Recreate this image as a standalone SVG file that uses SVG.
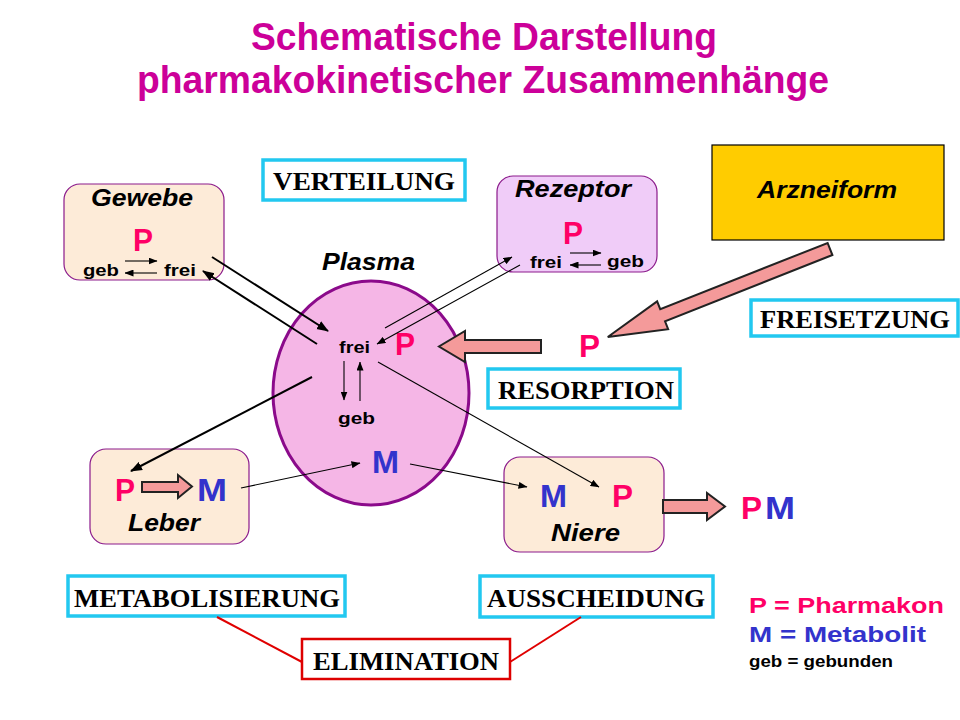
<svg xmlns="http://www.w3.org/2000/svg" width="960" height="720" viewBox="0 0 960 720">
<defs>
<marker id="ah" markerUnits="userSpaceOnUse" markerWidth="12" markerHeight="10" viewBox="0 0 12 10" refX="11" refY="5" orient="auto">
<path d="M0,0.5 L12,5 L0,9.5 Z" fill="#000"/>
</marker>
<marker id="ahs" markerUnits="userSpaceOnUse" markerWidth="9" markerHeight="7" viewBox="0 0 9 7" refX="8.5" refY="3.5" orient="auto">
<path d="M0,0 L9,3.5 L0,7 Z" fill="#000"/>
</marker>
</defs>
<style>
.title{font-family:"Liberation Sans",Arial,sans-serif;font-weight:bold;font-size:39px;fill:#cc0099;text-anchor:middle}
.lbl{font-family:"Liberation Sans",Arial,sans-serif;font-weight:bold;font-style:italic;font-size:24px;fill:#000}
.sm{font-family:"Liberation Sans",Arial,sans-serif;font-weight:bold;font-size:17px;fill:#000}
.P{font-family:"Liberation Sans",Arial,sans-serif;font-weight:bold;font-size:32px;fill:#ff0066}
.M{font-family:"Liberation Sans",Arial,sans-serif;font-weight:bold;font-size:32px;fill:#3333cc}
.proc{font-family:"Liberation Serif","Times New Roman",serif;font-weight:bold;font-size:26px;fill:#000}
.pbox{fill:#fff;stroke:#22c8f0;stroke-width:3.5}
.peach{fill:#fdebd8;stroke:#8b1a8b;stroke-width:1.2}
.lav{fill:#f0ccf8;stroke:#8b1a8b;stroke-width:1.2}
.bigarrow{fill:#f49a9a;stroke:#222;stroke-width:2;stroke-linejoin:miter}
.c2{stroke:#000;stroke-width:2;fill:none}
.c1{stroke:#000;stroke-width:1.1;fill:none}
.red{stroke:#e00000;stroke-width:2;fill:none}
.leg{font-family:"Liberation Sans",Arial,sans-serif;font-weight:bold;font-size:22px}
</style>
<rect width="960" height="720" fill="#fff"/>

<g id="title">
<text class="title" x="484" y="50" textLength="466" lengthAdjust="spacingAndGlyphs">Schematische Darstellung</text>
<text class="title" x="483" y="93" textLength="692" lengthAdjust="spacingAndGlyphs">pharmakokinetischer Zusammenhänge</text>
</g>

<g id="plasma">
<ellipse cx="371" cy="393" rx="98" ry="112" fill="#f5b6e6" stroke="#8b0a8b" stroke-width="3"/>
<text class="lbl" x="322" y="270" textLength="93" lengthAdjust="spacingAndGlyphs">Plasma</text>
<text class="sm" x="339" y="353" textLength="31" lengthAdjust="spacingAndGlyphs">frei</text>
<text class="P" x="395" y="355" font-size="30" textLength="20" lengthAdjust="spacingAndGlyphs">P</text>
<text class="sm" x="338" y="424" textLength="37" lengthAdjust="spacingAndGlyphs">geb</text>
<text class="M" x="372" y="473" font-size="31" textLength="27" lengthAdjust="spacingAndGlyphs">M</text>
<line class="c1" x1="344" y1="361" x2="344" y2="400" marker-end="url(#ahs)"/>
<line class="c1" x1="360" y1="401" x2="360" y2="362" marker-end="url(#ahs)"/>
</g>

<g id="gewebe">
<rect class="peach" x="64" y="184" width="160" height="96" rx="16"/>
<text class="lbl" x="91" y="206" textLength="102" lengthAdjust="spacingAndGlyphs">Gewebe</text>
<text class="P" x="133" y="251" textLength="20" lengthAdjust="spacingAndGlyphs">P</text>
<text class="sm" x="83" y="276" textLength="36" lengthAdjust="spacingAndGlyphs">geb</text>
<text class="sm" x="164" y="276" textLength="32" lengthAdjust="spacingAndGlyphs">frei</text>
<line class="c1" x1="125" y1="261" x2="157" y2="261" stroke-width="1.6" marker-end="url(#ahs)"/>
<line class="c1" x1="157" y1="273" x2="125" y2="273" stroke-width="1.6" marker-end="url(#ahs)"/>
</g>

<g id="verteilung">
<rect class="pbox" x="263" y="160" width="202" height="40"/>
<text class="proc" x="364" y="190" text-anchor="middle" textLength="182" lengthAdjust="spacingAndGlyphs">VERTEILUNG</text>
</g>

<g id="rezeptor">
<rect class="lav" x="497" y="176" width="160" height="96" rx="16"/>
<text class="lbl" x="515" y="197" textLength="116" lengthAdjust="spacingAndGlyphs">Rezeptor</text>
<text class="P" x="563" y="244" textLength="20" lengthAdjust="spacingAndGlyphs">P</text>
<text class="sm" x="530" y="268" textLength="32" lengthAdjust="spacingAndGlyphs">frei</text>
<text class="sm" x="607" y="267" textLength="37" lengthAdjust="spacingAndGlyphs">geb</text>
<line class="c1" x1="570" y1="253" x2="601" y2="253" stroke-width="1.6" marker-end="url(#ahs)"/>
<line class="c1" x1="601" y1="265" x2="570" y2="265" stroke-width="1.6" marker-end="url(#ahs)"/>
</g>

<g id="arzneiform">
<rect x="712" y="145" width="232" height="95" fill="#ffcc00" stroke="#000" stroke-width="1.2"/>
<text class="lbl" x="757" y="198" textLength="140" lengthAdjust="spacingAndGlyphs">Arzneiform</text>
</g>

<g id="freisetzung">
<rect class="pbox" x="751" y="300" width="207" height="36"/>
<text class="proc" x="855" y="328" text-anchor="middle" textLength="190" lengthAdjust="spacingAndGlyphs">FREISETZUNG</text>
</g>

<g id="p-resorbed">
<text class="P" x="579" y="357" textLength="21" lengthAdjust="spacingAndGlyphs">P</text>
</g>

<g id="resorption">
<rect class="pbox" x="488" y="369" width="192" height="39"/>
<text class="proc" x="586" y="399" text-anchor="middle" textLength="176" lengthAdjust="spacingAndGlyphs">RESORPTION</text>
</g>

<g id="leber">
<rect class="peach" x="90" y="449" width="159" height="95" rx="16"/>
<text class="P" x="115" y="501" textLength="20" lengthAdjust="spacingAndGlyphs">P</text>
<path class="bigarrow" stroke-width="1.6" d="M142,482 L178,482 L178,475 L192,486.5 L178,498 L178,492 L142,492 Z"/>
<text class="M" x="197" y="501" textLength="30" lengthAdjust="spacingAndGlyphs">M</text>
<text class="lbl" x="128" y="531" textLength="72" lengthAdjust="spacingAndGlyphs">Leber</text>
</g>

<g id="niere">
<rect class="peach" x="504" y="457" width="160" height="95" rx="16"/>
<text class="M" x="540" y="507" textLength="27" lengthAdjust="spacingAndGlyphs">M</text>
<text class="P" x="612" y="507" textLength="21" lengthAdjust="spacingAndGlyphs">P</text>
<text class="lbl" x="551" y="541" textLength="69" lengthAdjust="spacingAndGlyphs">Niere</text>
</g>

<g id="excreted">
<text class="P" x="741" y="519" textLength="21" lengthAdjust="spacingAndGlyphs">P</text>
<text class="M" x="765" y="519" textLength="30" lengthAdjust="spacingAndGlyphs">M</text>
</g>

<g id="metabolisierung">
<rect class="pbox" x="68" y="576" width="277" height="40"/>
<text class="proc" x="207" y="607" text-anchor="middle" textLength="266" lengthAdjust="spacingAndGlyphs">METABOLISIERUNG</text>
</g>

<g id="ausscheidung">
<rect class="pbox" x="480" y="576" width="233" height="41"/>
<text class="proc" x="596" y="607" text-anchor="middle" textLength="218" lengthAdjust="spacingAndGlyphs">AUSSCHEIDUNG</text>
</g>

<g id="elimination">
<rect x="302" y="639" width="208" height="40" fill="#fff" stroke="#dd0000" stroke-width="2.5"/>
<text class="proc" x="406" y="670" text-anchor="middle" textLength="186" lengthAdjust="spacingAndGlyphs">ELIMINATION</text>
</g>

<g id="legend">
<text class="leg" x="749" y="613" fill="#ff0066" textLength="195" lengthAdjust="spacingAndGlyphs">P = Pharmakon</text>
<text class="leg" x="749" y="642" fill="#3333cc" textLength="177" lengthAdjust="spacingAndGlyphs">M = Metabolit</text>
<text class="sm" x="749" y="667" textLength="144" lengthAdjust="spacingAndGlyphs">geb = gebunden</text>
</g>

<g id="connectors">
<path class="bigarrow" transform="translate(830,249) rotate(158.4)" d="M0,-6.5 L180,-6.5 L180,-15 L239,0 L180,15 L180,6.5 L0,6.5 Z"/>
<path class="bigarrow" d="M541,340 L465,340 L465,331 L439,346.5 L465,362 L465,353 L541,353 Z"/>
<path class="bigarrow" d="M663,500 L707,500 L707,493 L725,506.5 L707,520 L707,513 L663,513 Z"/>
<line class="c2" x1="212" y1="257" x2="328" y2="331" marker-end="url(#ah)"/>
<line class="c2" x1="317" y1="344" x2="203" y2="271" marker-end="url(#ah)"/>
<line class="c1" x1="385" y1="328" x2="512" y2="257" marker-end="url(#ahs)"/>
<line class="c1" x1="520" y1="265" x2="377" y2="344" marker-end="url(#ahs)"/>
<line class="c2" x1="312" y1="377" x2="131" y2="471" marker-end="url(#ah)"/>
<line class="c1" x1="241" y1="488" x2="360" y2="463" marker-end="url(#ahs)"/>
<line class="c1" x1="410" y1="464" x2="527" y2="487" marker-end="url(#ahs)"/>
<line class="c1" x1="378" y1="362" x2="599" y2="487" marker-end="url(#ahs)"/>
<line class="red" x1="217" y1="617" x2="302" y2="662"/>
<line class="red" x1="581" y1="617" x2="510" y2="662"/>
</g>
</svg>
